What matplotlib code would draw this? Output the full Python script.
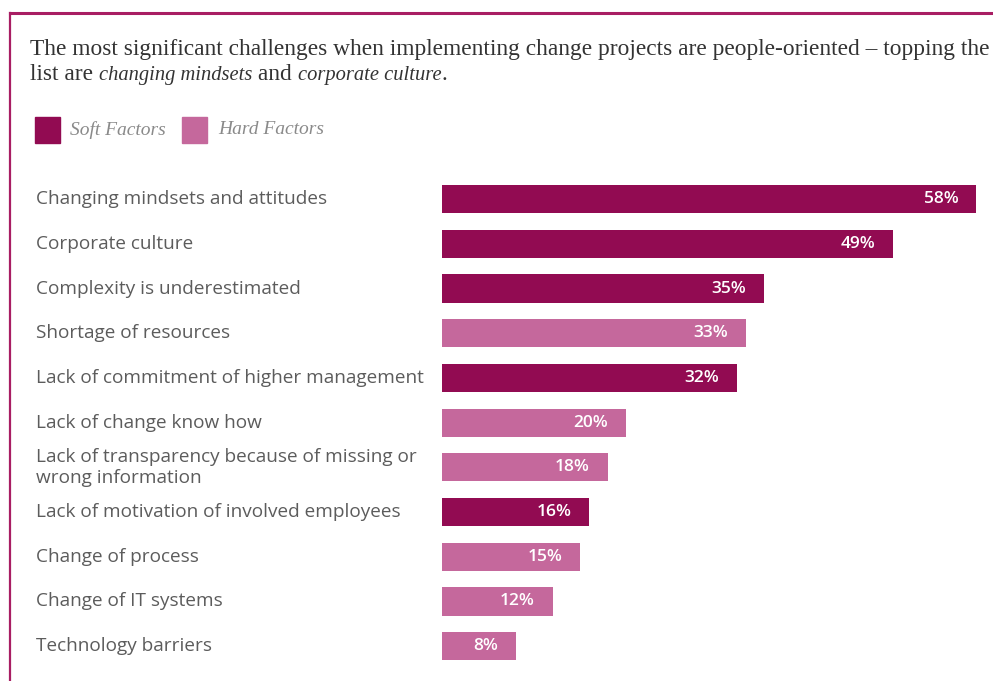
import matplotlib.pyplot as plt
import matplotlib.transforms as mtransforms
from matplotlib.lines import Line2D
from matplotlib.patches import Rectangle

plt.rcParams['font.family'] = ['Open Sans', 'DejaVu Sans']

# challenge categories, share of respondents (%) and factor type
challenges = ["Changing mindsets and attitudes",
              "Corporate culture",
              "Complexity is underestimated",
              "Shortage of resources",
              "Lack of commitment of higher management",
              "Lack of change know how",
              "Lack of transparency because of missing or\nwrong information",
              "Lack of motivation of involved employees",
              "Change of process",
              "Change of IT systems",
              "Technology barriers"]
shares = [58, 49, 35, 33, 32, 20, 18, 16, 15, 12, 8]
factor = ["soft", "soft", "soft", "hard", "soft", "hard", "hard", "soft", "hard", "hard", "hard"]

soft_col = "#920b52"
hard_col = "#c5689c"
border_col = "#a81d63"
colors = {"soft": soft_col, "hard": hard_col}

W, H = 993, 681
fig = plt.figure(figsize=(W / 100, H / 100), dpi=100)

# bars area
ax = fig.add_axes([442 / W, 12.5 / H, 539 / W, 491.7 / H])
ypos = list(range(len(challenges)))
ax.barh(ypos, shares, height=0.63, color=[colors[f] for f in factor], zorder=2)
ax.set_xlim(0, 58.5)
ax.set_ylim(len(challenges) - 0.5, -0.5)
ax.axis("off")

for y, v in zip(ypos, shares):
    ax.annotate(f"{v}%", (v, y), xytext=(-18, 0), textcoords="offset pixels",
                ha="right", va="center", color="white", fontsize=12.5,
                fontweight="semibold")

# category labels on the left
trans = mtransforms.blended_transform_factory(fig.transFigure, ax.transData)
for y, lab in zip(ypos, challenges):
    ax.text(36 / W, y, lab, transform=trans, ha="left", va="center",
            fontsize=13.7, color="#5c5c5c", linespacing=1.2, clip_on=False)

# frame lines top and left
fig.add_artist(Line2D([10 / W, 1], [1 - 13 / H, 1 - 13 / H], color=border_col,
                      lw=2.2, transform=fig.transFigure))
fig.add_artist(Line2D([10 / W, 10 / W], [0, 1 - 13 / H], color=border_col,
                      lw=1.6, transform=fig.transFigure))

# title, second line mixes roman and italic pieces
serif = ["Liberation Serif", "DejaVu Serif"]
fig.text(30 / W, 1 - 55 / H, "The most significant challenges when implementing change "
         "projects are people-oriented \u2013 topping the",
         family=serif, fontsize=16.8, color="#333333", va="baseline")

renderer = fig.canvas.get_renderer()
x = 30 / W
pieces = [("list are ", "normal", 16.8), ("changing mindsets", "italic", 14.8),
          (" and ", "normal", 16.8), ("corporate culture", "italic", 14.8),
          (".", "normal", 16.8)]
for txt, style, size in pieces:
    t = fig.text(x, 1 - 80 / H, txt, family=serif, fontsize=size, style=style,
                 color="#333333", va="baseline")
    bb = t.get_window_extent(renderer)
    x = bb.x1 / W

# legend
for sx, col, lab, tx in [(35, soft_col, "Soft Factors", 70), (182, hard_col, "Hard Factors", 218)]:
    fig.add_artist(Rectangle((sx / W, 1 - 143 / H), 25 / W, 26 / H, color=col,
                             transform=fig.transFigure))
    fig.text(tx / W, 1 - 130 / H, lab, family=serif, fontsize=14, style="italic",
             color="#8a8a8a", va="center")

fig.savefig("out.png", dpi=100, facecolor="white")
